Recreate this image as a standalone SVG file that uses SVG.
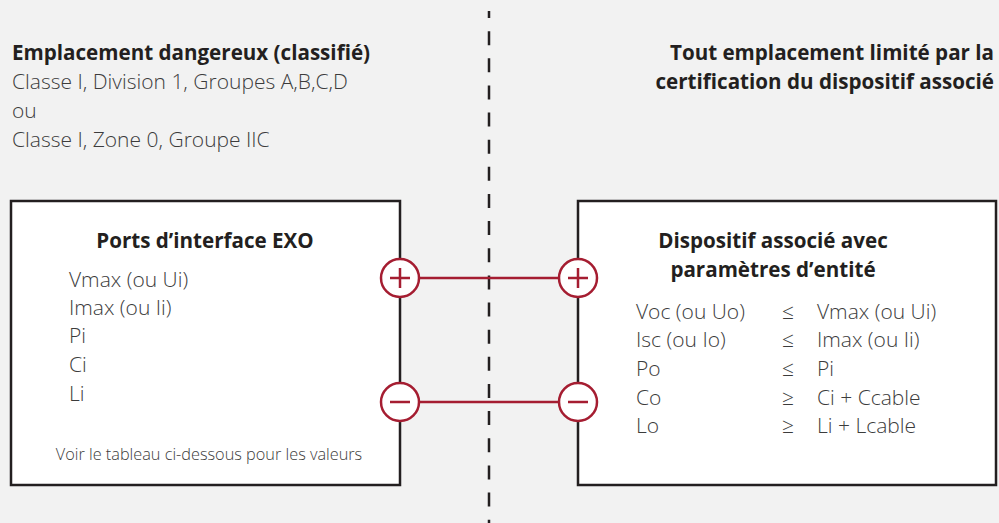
<svg xmlns="http://www.w3.org/2000/svg" width="999" height="523" viewBox="0 0 999 523">
<style>
.b{font-family:"Open Sans","Noto Sans",sans-serif;font-weight:700;fill:#231f20;font-size:20.6px}
.r{font-family:"Open Sans","Noto Sans",sans-serif;font-weight:300;fill:#3c3c3c;font-size:21px}
.s{font-family:"Open Sans","Noto Sans",sans-serif;font-weight:300;fill:#3c3c3c;font-size:16.3px}
.box{fill:#fff;stroke:#231f20;stroke-width:2.5}
.port{fill:#fff;stroke:#a51d31;stroke-width:2.5}
.sym{stroke:#a51d31;stroke-width:2.5;fill:none}
.wire{stroke:#a51d31;stroke-width:2.5;fill:none}
</style>
<rect width="999" height="523" fill="#f2f2f2"/>
<line x1="489" y1="11" x2="489" y2="523" stroke="#231f20" stroke-width="2.5" stroke-dasharray="14 13.14" stroke-dashoffset="7"/>
<g id="zone-left">
<text class="b" x="12" y="60">Emplacement dangereux (classifié)</text>
<text class="r" x="12" y="89">Classe I, Division 1, Groupes A,B,C,D</text>
<text class="r" x="12" y="118">ou</text>
<text class="r" x="12" y="147">Classe I, Zone 0, Groupe IIC</text>
</g>
<g id="zone-right">
<text class="b" x="994" y="60" text-anchor="end">Tout emplacement limité par la</text>
<text class="b" x="994" y="89" text-anchor="end">certification du dispositif associé</text>
</g>
<g id="connectors">
<line class="wire" x1="419" y1="278" x2="559" y2="278"/>
<line class="wire" x1="419" y1="402" x2="559" y2="402"/>
</g>
<g id="exo">
<rect class="box" x="11" y="201" width="389" height="284"/>
<text class="b" x="205" y="248" text-anchor="middle">Ports d’interface EXO</text>
<text class="r" x="69" y="287">Vmax (ou Ui)</text>
<text class="r" x="69" y="315">Imax (ou Ii)</text>
<text class="r" x="69" y="343">Pi</text>
<text class="r" x="69" y="372">Ci</text>
<text class="r" x="69" y="401">Li</text>
<text class="s" x="209" y="460" text-anchor="middle">Voir le tableau ci-dessous pour les valeurs</text>
</g>
<g id="assoc">
<rect class="box" x="578" y="201" width="418" height="284"/>
<text class="b" x="773" y="248" text-anchor="middle">Dispositif associé avec</text>
<text class="b" x="773" y="277" text-anchor="middle">paramètres d’entité</text>
<text class="r" x="636" y="319">Voc (ou Uo)</text>
<text class="r" x="782" y="319">≤</text>
<text class="r" x="817" y="319">Vmax (ou Ui)</text>
<text class="r" x="636" y="347">Isc (ou Io)</text>
<text class="r" x="782" y="347">≤</text>
<text class="r" x="817" y="347">Imax (ou Ii)</text>
<text class="r" x="636" y="376">Po</text>
<text class="r" x="782" y="376">≤</text>
<text class="r" x="817" y="376">Pi</text>
<text class="r" x="636" y="405">Co</text>
<text class="r" x="782" y="405">≥</text>
<text class="r" x="817" y="405">Ci + Ccable</text>
<text class="r" x="636" y="433">Lo</text>
<text class="r" x="782" y="433">≥</text>
<text class="r" x="817" y="433">Li + Lcable</text>
</g>
<g id="exo-plus">
<circle class="port" cx="400" cy="278" r="19"/>
<path class="sym" d="M390 278H410M400 268V288"/>
</g>
<g id="exo-minus">
<circle class="port" cx="400" cy="402" r="19"/>
<path class="sym" d="M390 402H410"/>
</g>
<g id="assoc-plus">
<circle class="port" cx="578" cy="278" r="19"/>
<path class="sym" d="M568 278H588M578 268V288"/>
</g>
<g id="assoc-minus">
<circle class="port" cx="578" cy="402" r="19"/>
<path class="sym" d="M568 402H588"/>
</g>
</svg>
